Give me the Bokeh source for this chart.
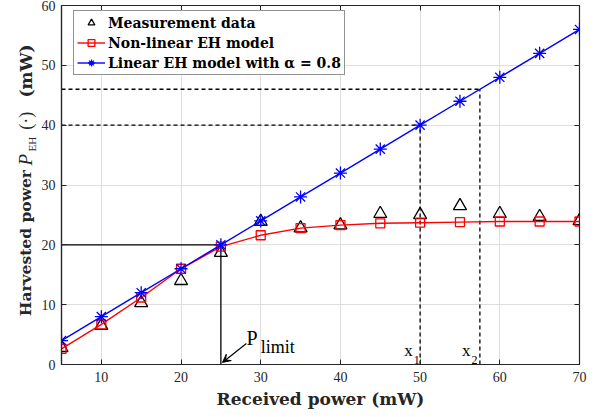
import math
from bokeh.plotting import figure
from bokeh.layouts import row
from bokeh.core.properties import value
from bokeh.models import (ColumnDataSource, Legend, LegendItem, Label, Arrow, VeeHead,
                          FixedTicker, LinearAxis, Range1d)
from bokeh.embed import file_html
from bokeh.resources import INLINE

# ---- data ----
received_power = [5, 10, 15, 20, 25, 30, 35, 40, 45, 50, 55, 60, 65, 70]
measured = [2.8, 6.5, 10.3, 14.0, 18.7, 23.9, 22.8, 23.3, 25.2, 25.0, 26.5, 25.2, 24.7, 24.0]
nonlinear = [2.6, 6.7, 11.2, 16.0, 19.7, 21.6, 22.8, 23.3, 23.6, 23.7, 23.8, 23.9, 23.9, 23.9]
linear = [4, 8, 12, 16, 20, 24, 28, 32, 36, 40, 44, 48, 52, 56]

x_ticks = [10, 20, 30, 40, 50, 60, 70]
y_ticks = [0, 10, 20, 30, 40, 50, 60]

p_limit = [25]
e_limit = [20]
x_marks = [50, 57.5]
y_marks = [40, 46]

AX = "#262626"
SERIF = "DejaVu Serif"
TSERIF = "Liberation Serif"

src = ColumnDataSource(dict(x=received_power, meas=measured, nl=nonlinear, lin=linear))

LEFT_W = 38
H = 417
p = figure(width=600 - LEFT_W, height=H, output_backend="svg", toolbar_location=None,
           x_range=Range1d(5, 70), y_range=Range1d(0, 60),
           min_border_left=59 - LEFT_W, min_border_right=21, min_border_top=5,
           min_border_bottom=53)
p.background_fill_color = "white"
p.border_fill_color = "white"
p.outline_line_color = AX
p.outline_line_width = 1.2

for ax in (p.xaxis[0], p.yaxis[0]):
    ax.major_tick_in = 5
    ax.major_tick_out = 0
    ax.minor_tick_line_color = None
    ax.axis_line_color = AX
    ax.axis_line_width = 1.2
    ax.major_tick_line_color = AX
    ax.major_label_text_font = TSERIF
    ax.major_label_text_font_size = "14px"
    ax.major_label_text_color = AX
p.xaxis.ticker = FixedTicker(ticks=x_ticks)
p.yaxis.ticker = FixedTicker(ticks=y_ticks)
p.xaxis.major_label_standoff = 7
p.yaxis.major_label_standoff = 6
p.xaxis.axis_label = "Received power (mW)"
p.xaxis.axis_label_text_font = SERIF
p.xaxis.axis_label_text_font_style = "bold"
p.xaxis.axis_label_text_font_size = "17px"
p.xaxis.axis_label_text_color = AX
p.xaxis.axis_label_standoff = 4

# mirror ticks on top / right
top_ax = LinearAxis(ticker=FixedTicker(ticks=x_ticks), major_tick_in=5, major_tick_out=0,
                    minor_tick_line_color=None, axis_line_color=None,
                    major_label_overrides={t: "" for t in x_ticks},
                    major_label_standoff=0, major_tick_line_color=AX)
right_ax = LinearAxis(ticker=FixedTicker(ticks=y_ticks), major_tick_in=5, major_tick_out=0,
                      minor_tick_line_color=None, axis_line_color=None,
                      major_label_overrides={t: "" for t in y_ticks},
                      major_label_standoff=0, major_tick_line_color=AX)
p.add_layout(top_ax, "above")
p.add_layout(right_ax, "right")

p.xgrid.ticker = FixedTicker(ticks=x_ticks)
p.ygrid.ticker = FixedTicker(ticks=y_ticks)
p.grid.grid_line_color = "#dedede"
p.grid.grid_line_width = 1

# reference lines
x0 = p.x_range.start
p.segment(x0=[x0], y0=e_limit, x1=p_limit, y1=e_limit, line_color="black", line_width=1.3)
p.segment(x0=p_limit, y0=[0], x1=p_limit, y1=e_limit, line_color="black", line_width=1.3)
p.segment(x0=[x0, x0], y0=y_marks, x1=x_marks, y1=y_marks, line_color="black",
          line_width=1.3, line_dash="4 3")
p.segment(x0=x_marks, y0=[0, 0], x1=x_marks, y1=y_marks, line_color="black",
          line_width=1.3, line_dash="4 3")

# series
tri = p.scatter("x", "meas", source=src, marker="triangle", size=13, fill_color=None,
                line_color="black", line_width=1.3)
rl = p.line("x", "nl", source=src, line_color="#ff0000", line_width=1.4)
rs = p.scatter("x", "nl", source=src, marker="square", size=9, fill_color=None,
               line_color="#ff0000", line_width=1.3)
bl = p.line("x", "lin", source=src, line_color="#0000ff", line_width=1.4)
bs = p.scatter("x", "lin", source=src, marker="asterisk", size=13,
               line_color="#0000ff", line_width=1.3)

legend = Legend(items=[
    LegendItem(label="Measurement data", renderers=[tri]),
    LegendItem(label="Non-linear EH model", renderers=[rl, rs]),
    LegendItem(label="Linear EH model with α = 0.8", renderers=[bl, bs]),
], location=(12, 289))
legend.label_text_font = SERIF
legend.label_text_font_style = "bold"
legend.label_text_font_size = "14px"
legend.label_text_color = "black"
legend.border_line_color = AX
legend.border_line_width = 1.2
legend.background_fill_alpha = 1
legend.padding = 3
legend.spacing = 3
legend.glyph_width = 28
legend.glyph_height = 17
legend.label_height = 17
legend.label_standoff = 3
legend.margin = 0
p.add_layout(legend)

# annotation texts
p.add_layout(Arrow(end=VeeHead(size=8, line_color="black", fill_color="black", line_width=1),
                   x_start=28.2, y_start=3.5, x_end=25.2, y_end=0.35,
                   line_color="black", line_width=1.2))
p.add_layout(Label(x=28.2, y=2.67, text="P", text_font=TSERIF, text_font_size="20px",
                   text_color="black"))
p.add_layout(Label(x=30.0, y=1.2, text="limit", text_font=TSERIF, text_font_size="18px",
                   text_color="black"))
p.add_layout(Label(x=48.0, y=0.8, text="x", text_font=TSERIF, text_font_size="17px",
                   text_color="black"))
p.add_layout(Label(x=49.2, y=0.15, text="1", text_font=TSERIF, text_font_size="12px",
                   text_color="black"))
p.add_layout(Label(x=55.25, y=0.8, text="x", text_font=TSERIF, text_font_size="17px",
                   text_color="black"))
p.add_layout(Label(x=56.45, y=0.15, text="2", text_font=TSERIF, text_font_size="12px",
                   text_color="black"))

# y axis label: a narrow companion panel holding the rotated, mixed-style title
yl = figure(width=LEFT_W, height=H, output_backend="svg", toolbar_location=None,
            x_range=Range1d(0, LEFT_W), y_range=Range1d(0, H),
            x_axis_location=None, y_axis_location=None, title_location=None,
            min_border_left=0, min_border_right=0, min_border_top=0, min_border_bottom=0)
yl.grid.visible = False
yl.outline_line_color = None
yl.background_fill_color = "white"
yl.border_fill_color = "white"
ang = math.pi / 2
def ylab(cy, text, font, style, size, cx=25):
    # cx, cy: centre of the piece, in pixels from the page's top-left corner
    yl.text(x=[cx], y=[H - cy], text=[text], angle=ang, text_font=value(font),
            text_font_style=style, text_font_size=size, text_color=AX,
            text_align="center", text_baseline="middle")
ylab(276, "Harvested power", SERIF, "bold", "15.5px")
ylab(179, "P", TSERIF, "italic", "19px")
ylab(161, "EH", TSERIF, "normal", "11px", cx=31)
ylab(134, "(·)", TSERIF, "normal", "18px")
ylab(76, "(mW)", SERIF, "bold", "17px")

layout = row(yl, p, spacing=0)
open("out.html", "w").write(file_html(layout, INLINE))
